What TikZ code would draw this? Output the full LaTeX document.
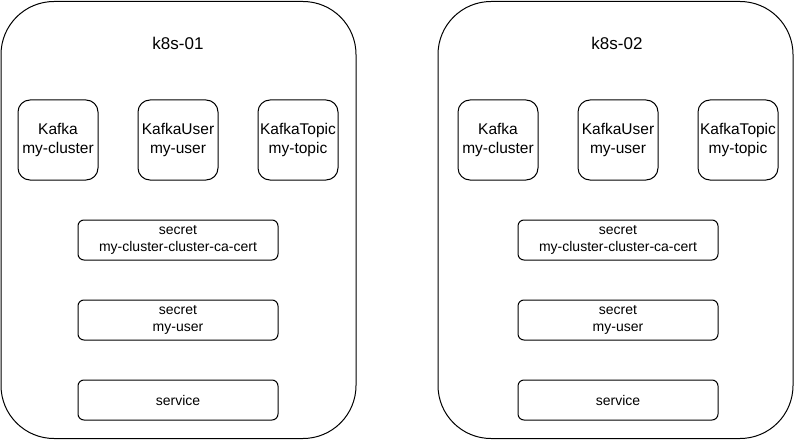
\documentclass[tikz,border=0pt]{standalone}
\usepackage{fontspec}
\setmainfont{Liberation Sans}
\begin{document}
\begin{tikzpicture}[x=1pt,y=-1pt,
  cluster/.style={draw=black,fill=white,line width=1pt,rounded corners=53pt,
    minimum width=355pt,minimum height=437pt,inner sep=0pt},
  title/.style={font=\fontsize{17}{20}\selectfont,inner sep=0pt},
  crd/.style={draw=black,fill=white,line width=1pt,rounded corners=12pt,
    minimum width=80pt,minimum height=80pt,inner sep=0pt,align=center,
    font=\fontsize{15.5}{19.5}\selectfont},
  res/.style={draw=black,fill=white,line width=1pt,rounded corners=6pt,
    minimum width=200pt,minimum height=40pt,inner sep=0pt,align=center,
    font=\fontsize{14}{16.5}\selectfont}]
\useasboundingbox[fill=white] (0,0) rectangle (794,441);
% left cluster
\node[cluster] (c1) at (178.5,220) {};
\node[title] (t1) at (178,43) {k8s-01};
\node[crd] (k1) at (58,140) {Kafka\\my-cluster};
\node[crd] (u1) at (178,140) {KafkaUser\\my-user};
\node[crd] (p1) at (298,140) {KafkaTopic\\my-topic};
\node[res] (s1) at (178,240) {secret\\my-cluster-cluster-ca-cert};
\node[res] (m1) at (178,320) {secret\\my-user};
\node[res] (v1) at (178,400) {service};
% right cluster
\node[cluster] (c2) at (615.5,220) {};
\node[title] (t2) at (617,43) {k8s-02};
\node[crd] (k2) at (498,140) {Kafka\\my-cluster};
\node[crd] (u2) at (618,140) {KafkaUser\\my-user};
\node[crd] (p2) at (738,140) {KafkaTopic\\my-topic};
\node[res] (s2) at (618,240) {secret\\my-cluster-cluster-ca-cert};
\node[res] (m2) at (618,320) {secret\\my-user};
\node[res] (v2) at (618,400) {service};
\end{tikzpicture}
\end{document}
